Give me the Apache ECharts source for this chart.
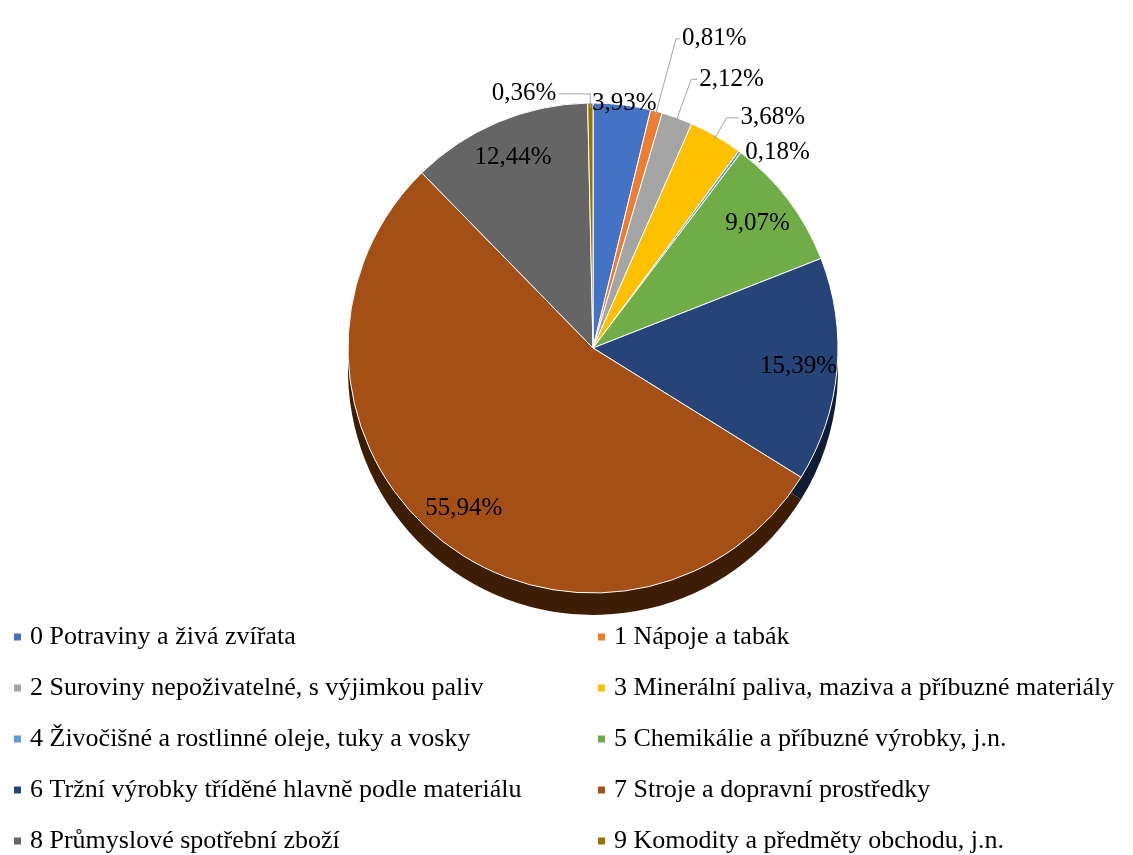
<!DOCTYPE html>
<html>
<head>
<meta charset="utf-8" />
<title>Struktura vývozu podle SITC</title>
<script src="https://cdn.jsdelivr.net/npm/echarts@6/dist/echarts.min.js"></script>
<style>
html, body { margin: 0; padding: 0; background: #fff; }
#chart { width: 1133px; height: 855px; }
</style>
</head>
<body>
<div id="chart"></div>
<script>
// tridy SITC
var categories = [
	'0 Potraviny a živá zvířata',
	'1 Nápoje a tabák',
	'2 Suroviny nepoživatelné, s výjimkou paliv',
	'3 Minerální paliva, maziva a příbuzné materiály',
	'4 Živočišné a rostlinné oleje, tuky a vosky',
	'5 Chemikálie a příbuzné výrobky, j.n.',
	'6 Tržní výrobky tříděné hlavně podle materiálu',
	'7 Stroje a dopravní prostředky',
	'8 Průmyslové spotřební zboží',
	'9 Komodity a předměty obchodu, j.n.'
];
// podil v %
var shares = [3.93, 0.81, 2.12, 3.68, 0.18, 9.07, 15.39, 55.94, 12.44, 0.36];

// barvy (Office)
var colors = ['#4472C4', '#ED7D31', '#A5A5A5', '#FFC000', '#5B9BD5', '#70AD47', '#264478', '#A44F15', '#656565', '#997300'];
var sideColors = ['#1c3263', '#6b3510', '#4a4a4a', '#735600', '#254a6b', '#32521f', '#0f1c33', '#3e1d05', '#2a2a2a', '#453300'];

// popisky: uvnitr / venku s carou
var labelCfg = {
	0: { line: false, len: 6, len2: 0 },
	1: { line: true, len: 80, len2: 4 },
	2: { line: true, len: 46, len2: 6 },
	3: { line: true, len: 26, len2: 12 },
	4: { line: false, len: 4, len2: 4 },
	9: { line: true, len: 14, len2: 32 }
};

var cx = 593, cy = 348, R = 245, depth = 22;
var fmt = function (p) { return p.value.toFixed(2).replace('.', ',') + '%'; };

var mainData = [], sideData = [], labelData = [];
for (var i = 0; i < categories.length; i++) {
	mainData.push({ name: categories[i], value: shares[i], itemStyle: { color: colors[i] } });
	sideData.push({ name: categories[i], value: shares[i], itemStyle: { color: sideColors[i] } });
	var c = labelCfg[i];
	if (c) {
		labelData.push({
			name: categories[i], value: shares[i],
			label: { position: 'outside' },
			labelLine: { show: c.line, length: c.len, length2: c.len2 }
		});
	} else {
		labelData.push({ name: categories[i], value: shares[i], label: { position: 'inside' }, labelLine: { show: false } });
	}
}

var legendLeft = [], legendRight = [];
categories.forEach(function (n, k) {
	var item = { name: n, itemStyle: { color: colors[k] } };
	if (k % 2 === 0) legendLeft.push(item); else legendRight.push(item);
});

var legendBase = {
	orient: 'vertical',
	top: 617,
	height: 240,
	icon: 'rect',
	itemWidth: 9,
	itemHeight: 9,
	itemGap: 21,
	selectedMode: false,
	textStyle: { fontFamily: 'Liberation Serif', fontSize: 26, color: '#000', lineHeight: 30, padding: [0, 0, 0, 3] }
};

var chart = echarts.init(document.getElementById('chart'));
chart.setOption({
	backgroundColor: '#fff',
	animation: false,
	legend: [
		Object.assign({}, legendBase, { left: 7, data: legendLeft }),
		Object.assign({}, legendBase, { left: 591, data: legendRight })
	],
	series: [{
		// horni plocha
		name: 'main',
		type: 'pie',
		z: 3,
		center: [cx, cy],
		radius: R,
		startAngle: 90,
		silent: true,
		itemStyle: { borderColor: '#fff', borderWidth: 1 },
		label: { show: false },
		labelLine: { show: false },
		data: mainData
	}, {
		// bok (hloubka)
		name: 'side',
		type: 'pie',
		z: 1,
		center: [cx, cy + depth],
		radius: R,
		startAngle: 90,
		silent: true,
		itemStyle: { borderWidth: 0 },
		label: { show: false },
		labelLine: { show: false },
		data: sideData
	}, {
		// popisky
		name: 'labels',
		type: 'pie',
		z: 4,
		center: [cx, cy],
		radius: [R * 0.68, R * 0.98],
		startAngle: 90,
		silent: true,
		avoidLabelOverlap: false,
		itemStyle: { color: 'rgba(0,0,0,0)' },
		label: {
			show: true,
			formatter: fmt,
			fontFamily: 'Liberation Serif',
			fontSize: 25,
			color: '#000',
			distanceToLabelLine: 2
		},
		labelLine: { lineStyle: { color: '#a6a6a6', width: 1 } },
		labelLayout: function (params) {
			if (params.dataIndex === 0) return { align: 'center' };
		},
		data: labelData
	}]
});
</script>
</body>
</html>
